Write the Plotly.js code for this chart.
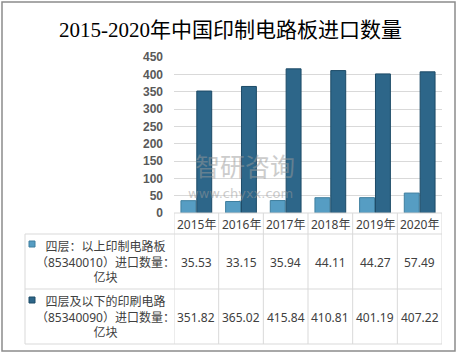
<!DOCTYPE html>
<html>
<head>
<meta charset="utf-8">
<script src="https://cdn.plot.ly/plotly-3.0.1.min.js"></script>
<style>html,body{margin:0;padding:0;background:#fff;}#chart{width:459px;height:354px;}</style>
</head>
<body>
<div id="chart"></div>
<script>
// ---- data ----
var years = ["2015年", "2016年", "2017年", "2018年", "2019年", "2020年"];
var seriesNames = ["四层：以上印制电路板<br>（85340010）进口数量：<br>亿块",
                   "四层及以下的印刷电路<br>（85340090）进口数量：<br>亿块"];
var above4 = [35.53, 33.15, 35.94, 44.11, 44.27, 57.49];
var below4 = [351.82, 365.02, 415.84, 410.81, 401.19, 407.22];
var yTicks = [0, 50, 100, 150, 200, 250, 300, 350, 400, 450];

// ---- layout helpers (pixel -> paper) ----
var W = 459, H = 354, L = 174, R = 442, T = 57, B = 213;
function px(x) { return (x - L) / (R - L); }
function py(y) { return (B - y) / (B - T); }

var colors = ["#569dc3", "#2d6689"];
var lines = ["#3f7f9f", "#1c4a66"];
var tableFont = {family: "Noto Sans, Noto Sans CJK SC, sans-serif", size: 12, color: "#404040"};

var traces = [above4, below4].map(function (vals, i) {
  return {
    type: "bar", x: years, y: vals, name: seriesNames[i],
    marker: {color: colors[i], line: {color: lines[i], width: 1}},
    hoverinfo: "y"
  };
});

var shapes = [], annotations = [];
var gridC = "#d9d9d9";
// outer border
shapes.push({type: "rect", xref: "paper", yref: "paper", x0: px(2), x1: px(455), y0: py(2), y1: py(351),
  line: {color: "#8c8c8c", width: 1.5}});
// table horizontal lines
shapes.push({type: "line", xref: "paper", yref: "paper", x0: px(174), x1: px(442), y0: py(213), y1: py(213), line: {color: gridC, width: 1}});
[234, 289, 344].forEach(function (yy) {
  shapes.push({type: "line", xref: "paper", yref: "paper", x0: px(25), x1: px(442), y0: py(yy), y1: py(yy), line: {color: gridC, width: 1}});
});
shapes.push({type: "line", xref: "paper", yref: "paper", x0: px(25), x1: px(25), y0: py(234), y1: py(344), line: {color: gridC, width: 1}});
for (var k = 0; k <= years.length; k++) {
  shapes.push({type: "line", xref: "x", yref: "paper", x0: k - 0.5, x1: k - 0.5, y0: py(213), y1: py(344), line: {color: gridC, width: 1}});
}
// header years
years.forEach(function (yr, i) {
  annotations.push({xref: "x", yref: "paper", x: i, y: py(224), text: yr, showarrow: false, font: tableFont, xanchor: "center", yanchor: "middle"});
});
// values + row labels
[above4, below4].forEach(function (vals, r) {
  var yc = r === 0 ? 262 : 317;
  vals.forEach(function (v, i) {
    annotations.push({xref: "x", yref: "paper", x: i, y: py(yc), text: v.toFixed(2), showarrow: false, font: tableFont, xanchor: "center", yanchor: "middle"});
  });
  annotations.push({xref: "paper", yref: "paper", x: px(105), y: py(yc), text: seriesNames[r], showarrow: false,
    font: tableFont, align: "center", xanchor: "center", yanchor: "middle"});
  var sy = r === 0 ? 244 : 300;
  shapes.push({type: "rect", xref: "paper", yref: "paper", x0: px(29), x1: px(35), y0: py(sy - 3), y1: py(sy + 3),
    fillcolor: colors[r], line: {color: lines[r], width: 1}});
});
// watermark
annotations.push({xref: "paper", yref: "paper", x: px(245), y: py(165), text: "智研咨询", showarrow: false,
  font: {family: "Noto Sans CJK SC, sans-serif", size: 25, color: "#9a9a9a"}, opacity: 0.5, xanchor: "center", yanchor: "middle"});
annotations.push({xref: "paper", yref: "paper", x: px(240), y: py(193), text: "www.chyxx.com", showarrow: false,
  font: {family: "DejaVu Sans, sans-serif", size: 13, color: "#9a9a9a"}, opacity: 0.5, xanchor: "center", yanchor: "middle"});

var layout = {
  width: W, height: H,
  margin: {l: L, r: W - R, t: T, b: H - B},
  paper_bgcolor: "#fff", plot_bgcolor: "#fff",
  title: {text: "2015-2020年中国印制电路板进口数量", x: 0.502, xref: "container", xanchor: "center", y: 1 - 30 / H, yref: "container", yanchor: "middle",
    font: {family: "Liberation Serif, Noto Sans CJK SC, serif", size: 21, color: "#000"}},
  showlegend: false,
  barmode: "group", bargap: 0.29, bargroupgap: 0.06,
  xaxis: {showticklabels: false, showgrid: false, zeroline: false, showline: false, ticks: "", range: [-0.5, 5.5]},
  yaxis: {range: [0, 450], tickvals: yTicks, ticktext: yTicks.map(String), showgrid: true, gridcolor: gridC, gridwidth: 1,
    zeroline: false, showline: false, ticks: "", ticklabelstandoff: 10,
    tickfont: {family: "Liberation Sans, Arial, sans-serif", size: 12, color: "#595959", weight: "bold"}},
  shapes: shapes, annotations: annotations
};

Plotly.newPlot("chart", traces, layout, {staticPlot: true, displayModeBar: false});
</script>
</body>
</html>
